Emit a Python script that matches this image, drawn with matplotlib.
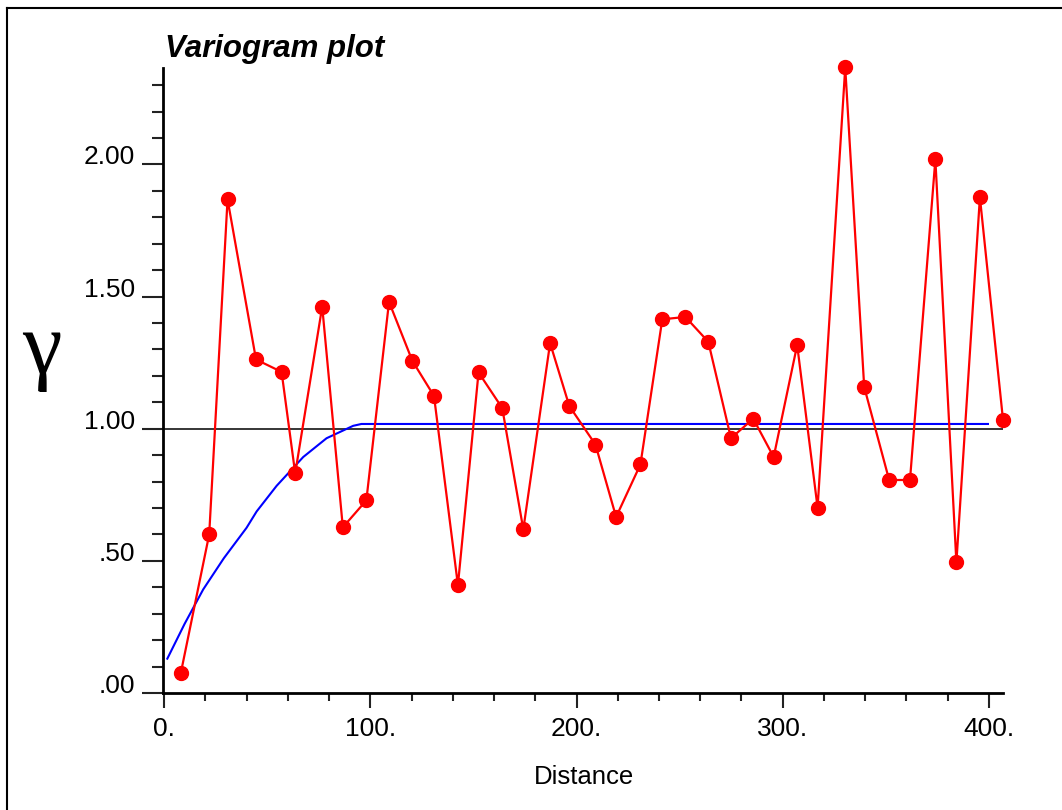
import matplotlib
matplotlib.use("Agg")
import matplotlib.pyplot as plt
from matplotlib.ticker import MultipleLocator, FixedLocator
from matplotlib.lines import Line2D

# Experimental variogram (lag distance, gamma)
lag_distance = [8.1, 21.9, 30.8, 44.6, 57.0, 63.6, 76.7, 86.7, 98.1, 109.1,
                120.4, 130.9, 142.5, 152.5, 164.0, 174.2, 187.2, 196.5, 209.2, 219.2,
                231.0, 241.6, 252.8, 263.9, 274.9, 285.7, 295.6, 307.0, 316.9, 330.3,
                339.5, 351.6, 361.7, 374.0, 384.2, 395.6, 406.8]
gamma_values = [0.074, 0.600, 1.868, 1.262, 1.215, 0.831, 1.462, 0.627, 0.729, 1.480,
                1.257, 1.124, 0.408, 1.213, 1.078, 0.619, 1.324, 1.086, 0.940, 0.666,
                0.865, 1.414, 1.423, 1.329, 0.964, 1.038, 0.893, 1.317, 0.701, 2.367,
                1.158, 0.806, 0.806, 2.019, 0.494, 1.876, 1.034]

# Fitted model curve
model_distance = [1.6, 10.0, 19.0, 29.0, 40.0, 44.9, 54.6, 67.5, 78.8, 91.7, 95.7, 399.5]
model_gamma = [0.130, 0.262, 0.392, 0.510, 0.625, 0.687, 0.784, 0.893, 0.964, 1.011, 1.018, 1.018]

sill_level = 1.0

x_major = [0, 100, 200, 300, 400]
x_major_labels = ["0.", "100.", "200.", "300.", "400."]
y_major = [0.0, 0.5, 1.0, 1.5, 2.0]
y_major_labels = [".00", ".50", "1.00", "1.50", "2.00"]

title_text = "Variogram plot"
xlabel_text = "Distance"
ylabel_text = "γ"

W, H = 1062, 810
fig = plt.figure(figsize=(W / 100, H / 100), dpi=100)
fig.patch.set_facecolor("white")

left_px, right_px, bottom_px, top_px = 163, 1003, 693, 68
ax = fig.add_axes([left_px / W, 1 - bottom_px / H, (right_px - left_px) / W, (bottom_px - top_px) / H])
ax.set_xlim(-0.5, 406.8)
ax.set_ylim(0, 2.365)

for s in ["top", "right"]:
    ax.spines[s].set_visible(False)
for s in ["left", "bottom"]:
    ax.spines[s].set_linewidth(2.0)
    ax.spines[s].set_color("black")

ax.axhline(sill_level, color="black", lw=1.1, zorder=2)
ax.plot(model_distance, model_gamma, color="#0000ff", lw=1.5, zorder=3)
ax.plot(lag_distance, gamma_values, color="#ff0000", lw=1.6, marker="o",
        markersize=10, markerfacecolor="#ff0000", markeredgecolor="#ff0000",
        zorder=4, clip_on=False)

tick_font = dict(family=["Liberation Sans", "DejaVu Sans"], size=19)

ax.xaxis.set_major_locator(FixedLocator(x_major))
ax.xaxis.set_minor_locator(MultipleLocator(20))
ax.set_xticklabels(x_major_labels, fontdict=tick_font)
ax.tick_params(axis="x", which="major", direction="out", length=11, width=1.5, color="#222222", pad=6)
ax.tick_params(axis="x", which="minor", direction="out", length=6, width=1.5, color="#222222")

ax.yaxis.set_major_locator(FixedLocator(y_major))
ax.yaxis.set_minor_locator(MultipleLocator(0.1))
ax.set_yticklabels(y_major_labels, fontdict=tick_font)
ax.tick_params(axis="y", which="major", direction="out", length=15, width=1.5, color="#222222", pad=5)
ax.tick_params(axis="y", which="minor", direction="out", length=8, width=1.5, color="#222222")
for lab in ax.get_yticklabels():
    lab.set_verticalalignment("baseline")

fig.text(584 / W, 1 - 777 / H, xlabel_text, ha="center", va="center",
         family=["Liberation Sans", "DejaVu Sans"], size=18.5)
fig.text(42 / W, 1 - 352 / H, ylabel_text, ha="center", va="center",
         family=["Liberation Serif", "DejaVu Serif"], size=64)
fig.text(165 / W, 1 - 57 / H, title_text, ha="left", va="baseline",
         family=["Liberation Sans", "DejaVu Sans"], size=22.5, weight="bold", style="italic")

# Outer frame (left and top edges visible)
fig.add_artist(Line2D([7 / W, 7 / W], [0, 1 - 8 / H], transform=fig.transFigure, color="black", lw=1.5))
fig.add_artist(Line2D([7 / W, 1], [1 - 8 / H, 1 - 8 / H], transform=fig.transFigure, color="black", lw=1.5))

fig.savefig("out.png", dpi=100, facecolor="white")
